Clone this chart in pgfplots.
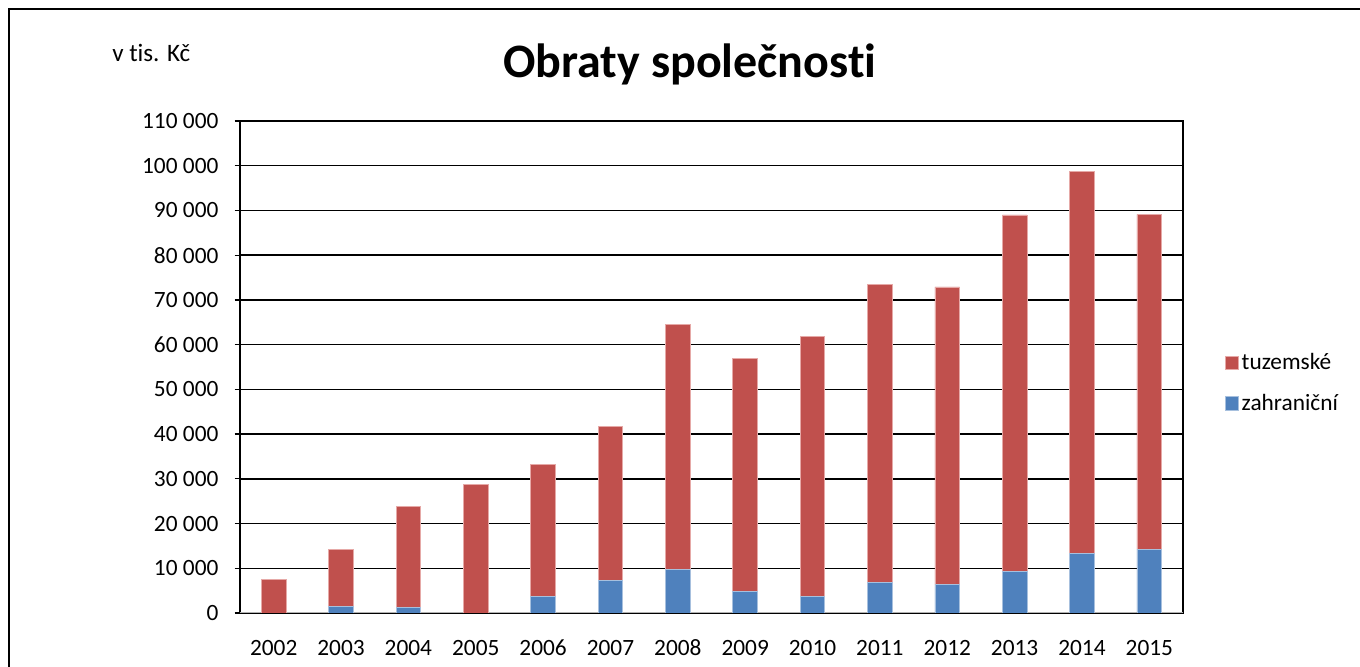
\documentclass[border=0pt]{standalone}
\usepackage{pgfplots}
\pgfplotsset{compat=1.18}
\usepackage{fontspec}
\setmainfont{Carlito}[Ligatures=NoCommon]
\definecolor{cred}{HTML}{C0504D}
\definecolor{cblue}{HTML}{4F81BD}
\definecolor{ered}{HTML}{E6A9A7}
\definecolor{eblue}{HTML}{A7C0DE}
\begin{document}
\begin{tikzpicture}
\useasboundingbox (0,0) rectangle (1020pt,500.25pt);
\draw[black, line width=1.5pt] (6.75pt,0pt) -- (6.75pt,493.5pt) -- (1020pt,493.5pt);
\node[anchor=base, font=\fontsize{36}{40}\selectfont\bfseries] at (517.5pt,441.75pt) {Obraty společnosti};
\node[anchor=base west, inner sep=0pt, font=\fontsize{18.8}{22}\selectfont] at (84pt,453.75pt) {v tis. Kč};
\begin{axis}[
  at={(180pt,40.5pt)}, anchor=south west,
  width=707.25pt, height=369pt, scale only axis,
  ybar stacked, bar width=18.5pt,
  xmin=-0.5, xmax=13.5, ymin=0, ymax=110000,
  scaled y ticks=false,
  xtick={0,...,13},
  xticklabels={2002,2003,2004,2005,2006,2007,2008,2009,2010,2011,2012,2013,2014,2015},
  ytick={0,10000,20000,30000,40000,50000,60000,70000,80000,90000,100000,110000},
  yticklabels={0,10 000,20 000,30 000,40 000,50 000,60 000,70 000,80 000,90 000,100 000,110 000},
  ytick pos=left,
  ymajorgrids, grid style={black, line width=1.1pt},
  axis line style={black, line width=1.2pt},
  x tick style={draw=none},
  y tick style={black, line width=1pt},
  tick align=outside, major tick length=4pt,
  ticklabel style={font=\fontsize{17.5}{20}\selectfont},
  yticklabel style={inner sep=0pt, xshift=-12pt},
  xticklabel style={inner sep=0pt, yshift=-16pt},
  reverse legend,
  legend style={at={(1.0445,0.4675)}, anchor=west, draw=none, fill=none,
    font=\fontsize{17.5}{20}\selectfont, row sep=13pt, inner sep=0pt},
  legend cell align=left,
  legend image code/.code={\fill[#1] (0pt,-4.9pt) rectangle (9.75pt,4.9pt);},
]
\addplot[fill=cblue, draw=eblue, line width=0.6pt] coordinates {
(0,0) (1,1400) (2,1200) (3,0) (4,3600) (5,7200) (6,9800) (7,4800) (8,3700) (9,6800) (10,6300) (11,9300) (12,13400) (13,14300)};
\addlegendentry{zahraniční}
\addplot[fill=cred, draw=ered, line width=0.6pt] coordinates {
(0,7500) (1,12800) (2,22700) (3,28700) (4,29700) (5,34600) (6,54800) (7,52200) (8,58100) (9,66700) (10,66600) (11,79700) (12,85400) (13,74800)};
\addlegendentry{tuzemské}
\draw[gray!60, line width=1.5pt] (axis cs:-0.5,0) -- (axis cs:13.5,0);
\draw[black, line width=1.2pt] (axis cs:-0.5,0) -- (axis cs:-0.5,110000);
\end{axis}
\end{tikzpicture}
\end{document}
